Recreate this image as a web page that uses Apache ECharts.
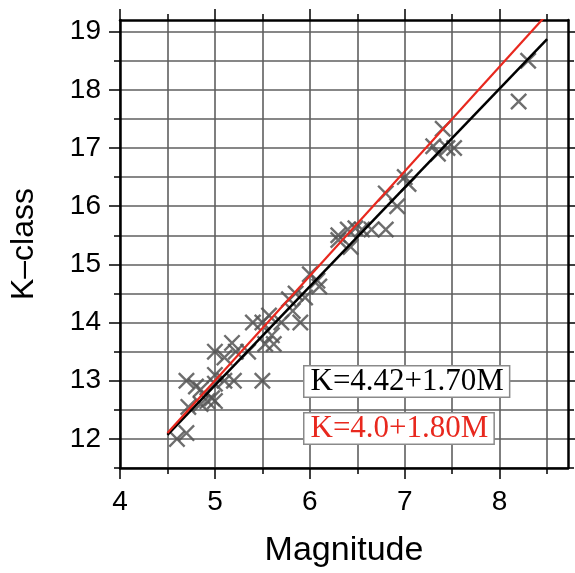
<!DOCTYPE html>
<html>
<head>
<meta charset="utf-8">
<style>
  html, body { margin: 0; padding: 0; background: #fff; }
  #main { width: 575px; height: 573px; }
</style>
<script src="https://cdn.jsdelivr.net/npm/echarts@6/dist/echarts.min.js"></script>
</head>
<body>
<div id="main"></div>
<script>
// 观测点：震级 与 K 级
const magnitude = [4.6, 4.7, 4.72, 4.7, 4.8, 4.85, 4.85, 4.92, 4.97, 5.0, 5.0, 5.0, 5.1, 5.2,
  5.0, 5.1, 5.18, 5.22, 5.35, 5.4, 5.5, 5.5, 5.57, 5.53, 5.62, 5.6, 5.7, 5.82, 5.78, 5.85,
  5.9, 5.95, 6.0, 6.08, 6.1, 6.3, 6.3, 6.4, 6.43, 6.48, 6.55, 6.65, 6.8, 6.8, 6.92, 7.0,
  7.04, 7.3, 7.35, 7.4, 7.45, 7.52, 8.2, 8.3]
const kClass = [12.0, 12.1, 12.55, 13.0, 12.9, 12.85, 12.6, 12.65, 12.7, 12.65, 12.95, 13.1, 13.0, 13.0,
  13.5, 13.4, 13.65, 13.5, 13.5, 14.0, 14.0, 13.0, 14.12, 13.63, 13.63, 13.78, 14.0, 14.2, 14.4, 14.5,
  14.0, 14.43, 14.83, 14.72, 14.62, 15.5, 15.42, 15.6, 15.3, 15.62, 15.6, 15.6, 15.6, 16.22, 16.0, 16.5,
  16.38, 17.03, 16.9, 17.33, 17.0, 17.0, 17.8, 18.5]

// 拟合直线端点
const blackFitM = [4.5, 8.5]
const blackFitK = [12.07, 18.87]
const redFitM = [4.5, 8.5]
const redFitK = [12.1, 19.3]

// 刻度
const xLabels = [4, 5, 6, 7, 8]
const xHalfTicks = [4, 4.5, 5, 5.5, 6, 6.5, 7, 7.5, 8, 8.5]
const yLabels = [12, 13, 14, 15, 16, 17, 18, 19]
const yHalfTicks = [11.5, 12, 12.5, 13, 13.5, 14, 14.5, 15, 15.5, 16, 16.5, 17, 17.5, 18, 18.5, 19]

const X_MIN = 4, X_MAX = 8.72, Y_MIN = 11.5, Y_MAX = 19.2

const crossPath = 'path://M0,1L1,0L5,4L9,0L10,1L6,5L10,9L9,10L5,6L1,10L0,9L4,5Z'
const frame = { show: true, lineStyle: { color: '#000', width: 2.5 } }
const tickStyle = { color: '#000', width: 1.5 }
const gridLine = { show: true, lineStyle: { color: '#5f5f5f', width: 1.6 } }

// 只在整数刻度处写标签
function labelOf(list) {
  return (v) => {
    const r = Math.round(v)
    return Math.abs(v - r) < 1e-6 && list.indexOf(r) > -1 ? String(r) : ''
  }
}

function edgeAxis(type, position, ticks, len, main) {
  const isX = type === 'x'
  return {
    type: 'value',
    position: position,
    min: isX ? X_MIN : Y_MIN,
    max: isX ? X_MAX : Y_MAX,
    axisLine: main ? frame : { show: false },
    axisTick: { show: true, customValues: ticks, length: len, inside: false, lineStyle: tickStyle },
    axisLabel: { show: false },
    splitLine: { show: false },
  }
}

let myChart = echarts.init(document.getElementById('main'))
let option = {
  animation: false,
  grid: { left: 117, right: 7, top: 20, bottom: 105 },
  xAxis: [
    {
      type: 'value',
      position: 'bottom',
      min: X_MIN,
      max: X_MAX,
      interval: 0.5,
      name: 'Magnitude',
      nameLocation: 'middle',
      nameGap: 66,
      nameTextStyle: { color: '#000', fontSize: 34, fontFamily: 'Liberation Sans' },
      axisLine: frame,
      axisTick: { show: true, customValues: xHalfTicks, length: 6, lineStyle: tickStyle },
      axisLabel: {
        formatter: labelOf(xLabels),
        showMaxLabel: false,
        margin: 20,
        color: '#000',
        fontSize: 28,
        fontFamily: 'Liberation Sans',
      },
      splitLine: gridLine,
    },
    edgeAxis('x', 'bottom', xLabels, 11, false),
    edgeAxis('x', 'top', xHalfTicks, 6, true),
    edgeAxis('x', 'top', xLabels, 11, false),
  ],
  yAxis: [
    {
      type: 'value',
      position: 'left',
      min: Y_MIN,
      max: Y_MAX,
      interval: 0.5,
      name: 'K\u2013class',
      nameLocation: 'middle',
      nameGap: 80,
      nameTextStyle: { color: '#000', fontSize: 32, fontFamily: 'Liberation Sans' },
      axisLine: frame,
      axisTick: { show: true, customValues: yHalfTicks, length: 6, lineStyle: tickStyle },
      axisLabel: {
        formatter: labelOf(yLabels),
        showMaxLabel: false,
        margin: 19,
        color: '#000',
        fontSize: 28,
        fontFamily: 'Liberation Sans',
      },
      splitLine: gridLine,
    },
    edgeAxis('y', 'left', yLabels, 11, false),
    edgeAxis('y', 'right', yHalfTicks, 6, true),
    edgeAxis('y', 'right', yLabels, 11, false),
  ],
  series: [
    {
      type: 'scatter',
      symbol: crossPath,
      symbolSize: 17,
      itemStyle: { color: '#555', opacity: 0.85 },
      data: magnitude.map((m, i) => [m, kClass[i]]),
      z: 2,
    },
    {
      type: 'line',
      symbol: 'none',
      lineStyle: { color: '#000', width: 2.5 },
      data: blackFitM.map((m, i) => [m, blackFitK[i]]),
      z: 3,
    },
    {
      type: 'line',
      symbol: 'none',
      lineStyle: { color: '#e8281e', width: 2.2 },
      data: redFitM.map((m, i) => [m, redFitK[i]]),
      z: 4,
    },
  ],
  graphic: [
    {
      type: 'text',
      left: 303,
      top: 365,
      z: 10,
      style: {
        text: 'K=4.42+1.70M',
        font: '31px "Liberation Serif"',
        lineHeight: 29,
        fill: '#000',
        backgroundColor: '#fff',
        borderColor: '#8a8a8a',
        borderWidth: 1.5,
        padding: [1, 5, 0, 6],
      },
    },
    {
      type: 'text',
      left: 303,
      top: 412,
      z: 10,
      style: {
        text: 'K=4.0+1.80M',
        font: '31px "Liberation Serif"',
        lineHeight: 29,
        fill: '#e8281e',
        backgroundColor: '#fff',
        borderColor: '#8a8a8a',
        borderWidth: 1.5,
        padding: [1, 5, 0, 6],
      },
    },
  ],
}
myChart.setOption(option)
</script>
</body>
</html>
